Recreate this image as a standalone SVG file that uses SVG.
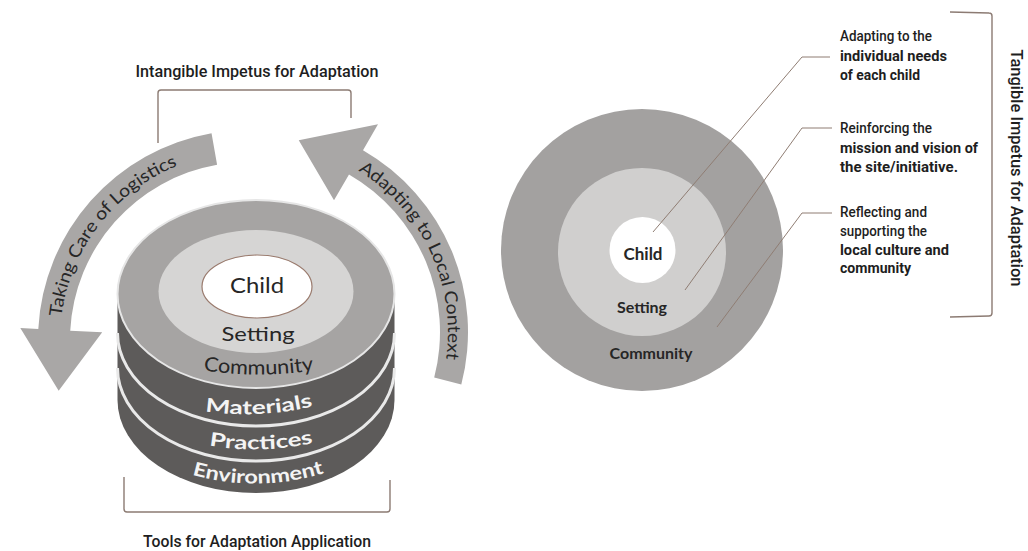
<svg xmlns="http://www.w3.org/2000/svg" width="1028" height="551" viewBox="0 0 1028 551">
  <style>
    .geo { font-family: Lato, "Noto Sans", sans-serif; }
    .cond { font-family: "Liberation Sans Narrow", Roboto, "Liberation Sans", sans-serif; fill: #1e1e1e; font-weight: 500; }
    .dark { fill: #262626; }
    .band { fill: #f4f4f4; font-weight: 700; font-size: 19px; }
    .bracket { fill: none; stroke: #8c7b73; stroke-width: 1.4; }
    .leader { fill: none; stroke: #8f7d73; stroke-width: 1; }
    .sep { fill: none; stroke: #e9e9e9; stroke-width: 3; }
    .arrow { fill: #a9a7a6; }
    .bold { font-weight: 700; }
  </style>
  <defs>
    <path id="logPath" d="M 62.86 372.65 A 188 188 0 0 1 215.35 154.86"/>
    <path id="ctxPath" d="M 322.98 153.46 A 190 190 0 0 1 436.54 396.98"/>
    <path id="commPath" d="M 195 369 Q 258 380 322 369"/>
    <path id="matPath" d="M 192 409 Q 258 422 326 403"/>
    <path id="pracPath" d="M 196 443 Q 260 457 326 440"/>
    <path id="envPath" d="M 180 471 Q 258 497 336 469"/>
  </defs>
  <rect width="1028" height="551" fill="#ffffff"/>

  <!-- stacked cylinder -->
  <g id="stack">
    <path d="M 117.5 296 L 117.5 400 A 138.5 93 0 0 0 394.5 400 L 394.5 296 Z" fill="#5d5b5a"/>
    <path class="sep" d="M 117.5 333 A 138.5 93 0 0 0 394.5 333"/>
    <path class="sep" d="M 117.5 368 A 138.5 93 0 0 0 394.5 368"/>
    <ellipse cx="256" cy="294" rx="138.5" ry="94" fill="#a6a4a3" stroke="#e6e6e6" stroke-width="2"/>
    <ellipse cx="256" cy="291.5" rx="97.5" ry="61.5" fill="#d6d5d4"/>
    <ellipse cx="257" cy="286.5" rx="55" ry="31.5" fill="#ffffff" stroke="#9a7b6e" stroke-width="1.2"/>
    <text class="geo dark" x="257" y="293" font-size="22" text-anchor="middle" textLength="54" lengthAdjust="spacingAndGlyphs">Child</text>
    <text class="geo dark" x="258" y="341" font-size="20" text-anchor="middle" textLength="73" lengthAdjust="spacingAndGlyphs">Setting</text>
    <text class="geo dark" font-size="20"><textPath href="#commPath" startOffset="50%" text-anchor="middle" textLength="111" lengthAdjust="spacingAndGlyphs">Community</textPath></text>
    <text class="geo band"><textPath href="#matPath" startOffset="50%" text-anchor="middle" textLength="109" lengthAdjust="spacingAndGlyphs">Materials</textPath></text>
    <text class="geo band"><textPath href="#pracPath" startOffset="50%" text-anchor="middle" textLength="105" lengthAdjust="spacingAndGlyphs">Practices</textPath></text>
    <text class="geo band"><textPath href="#envPath" startOffset="50%" text-anchor="middle" textLength="134" lengthAdjust="spacingAndGlyphs">Environment</textPath></text>
  </g>

  <!-- top bracket -->
  <g id="intangible">
    <path class="bracket" d="M 158 143 L 158 93 Q 158 90 161 90 L 348 90 Q 351 90 351 93 L 351 118"/>
    <text class="cond" x="257" y="77" font-size="17" text-anchor="middle" textLength="243" lengthAdjust="spacingAndGlyphs">Intangible Impetus for Adaptation</text>
  </g>

  <!-- bottom bracket -->
  <g id="tools">
    <path class="bracket" d="M 124 477 L 124 509 Q 124 512 127 512 L 387 512 Q 390 512 390 509 L 390 480"/>
    <text class="cond" x="257" y="547" font-size="17" text-anchor="middle" textLength="228" lengthAdjust="spacingAndGlyphs">Tools for Adaptation Application</text>
  </g>

  <!-- concentric target -->
  <g id="target">
    <circle cx="642" cy="250" r="141" fill="#a3a1a0"/>
    <circle cx="642" cy="252" r="84" fill="#d0cfce"/>
    <circle cx="642.5" cy="250" r="33" fill="#ffffff"/>
    <text class="geo dark" x="643" y="260" font-size="17" font-weight="700" text-anchor="middle">Child</text>
    <text class="geo dark" x="642" y="313" font-size="16" font-weight="700" text-anchor="middle">Setting</text>
    <text class="geo dark" x="651" y="359" font-size="16" font-weight="700" text-anchor="middle">Community</text>
  </g>

  <!-- ring descriptions -->
  <g id="note-child">
    <text class="cond" x="840" y="41" font-size="14" textLength="92" lengthAdjust="spacingAndGlyphs">Adapting to the</text>
    <text class="cond bold" x="840" y="61" font-size="14" textLength="107" lengthAdjust="spacingAndGlyphs">individual needs</text>
    <text class="cond bold" x="840" y="80" font-size="14" textLength="80" lengthAdjust="spacingAndGlyphs">of each child</text>
  </g>
  <g id="note-setting">
    <text class="cond" x="840" y="133" font-size="14" textLength="92" lengthAdjust="spacingAndGlyphs">Reinforcing the</text>
    <text class="cond bold" x="840" y="153" font-size="14" textLength="138" lengthAdjust="spacingAndGlyphs">mission and vision of</text>
    <text class="cond bold" x="840" y="172" font-size="14" textLength="118" lengthAdjust="spacingAndGlyphs">the site/initiative.</text>
  </g>
  <g id="note-community">
    <text class="cond" x="840" y="217" font-size="14" textLength="87" lengthAdjust="spacingAndGlyphs">Reflecting and</text>
    <text class="cond" x="840" y="236" font-size="14" textLength="87" lengthAdjust="spacingAndGlyphs">supporting the</text>
    <text class="cond bold" x="840" y="255" font-size="14" textLength="109" lengthAdjust="spacingAndGlyphs">local culture and</text>
    <text class="cond bold" x="840" y="273" font-size="14" textLength="71" lengthAdjust="spacingAndGlyphs">community</text>
  </g>

  <!-- right bracket -->
  <g id="tangible">
    <path class="bracket" d="M 950 12 L 989 13 Q 992 13 992 16 L 992 313 Q 992 316 989 316 L 950 317"/>
    <text class="cond" transform="translate(1011 168) rotate(90)" font-size="16" text-anchor="middle" textLength="237" lengthAdjust="spacingAndGlyphs">Tangible Impetus for Adaptation</text>
  </g>

  <!-- curved process arrows and leader lines -->
  <g id="connectors">
    <path id="arrow-logistics" class="arrow" d="M 211.53 133.19 A 210 210 0 0 0 38.29 329.01 L 20.31 328.07 L 58.68 390.73 L 102.20 332.36 L 70.24 330.68 A 178 178 0 0 1 217.09 164.70 Z"/>
    <path id="arrow-context" class="arrow" d="M 461.31 384.58 A 210 210 0 0 0 363 150.13 L 378 124.15 L 298.75 140.28 L 334 200.36 L 349 174.38 A 182 182 0 0 1 434.20 377.57 Z"/>
    <text class="geo dark" font-size="17.5"><textPath href="#logPath" startOffset="52.8%" text-anchor="middle" textLength="200" lengthAdjust="spacingAndGlyphs">Taking Care of Logistics</textPath></text>
    <text class="geo dark" font-size="17.5"><textPath href="#ctxPath" startOffset="50%" text-anchor="middle" textLength="220" lengthAdjust="spacingAndGlyphs">Adapting to Local Context</textPath></text>
    <path class="leader" d="M 830 57 L 802 57 L 653 232"/>
    <path class="leader" d="M 832 128 L 802 128 L 685 290"/>
    <path class="leader" d="M 832 213 L 802 213 L 717 327"/>
  </g>
</svg>
